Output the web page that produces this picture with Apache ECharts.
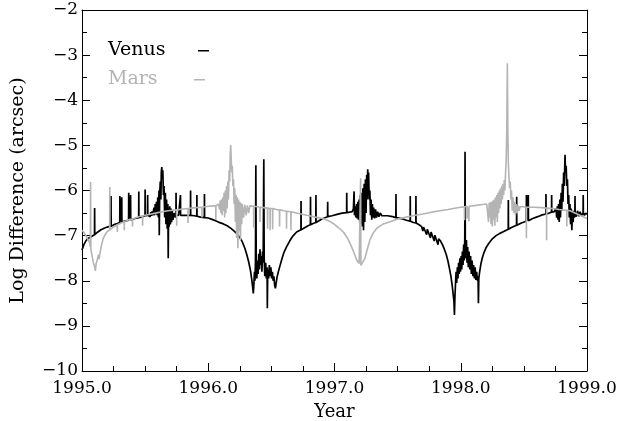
<!DOCTYPE html>
<html>
<head>
<meta charset="utf-8">
<script src="https://cdn.jsdelivr.net/npm/echarts@6/dist/echarts.min.js"></script>
<style>html,body{margin:0;padding:0;background:#fff;}#c{width:618px;height:421px;}</style>
</head>
<body>
<div id="c"></div>
<script>
// ---- axis ticks ----
const xTicks = [1995, 1996, 1997, 1998, 1999];
const yTicks = [-10, -9, -8, -7, -6, -5, -4, -3, -2];
const seriesNames = ['Venus', 'Mars'];

// ---- Venus (black) [year, log difference] ----
const venus1995 = [
[1995.000,-7.32],[1995.015,-7.20],[1995.030,-7.12],[1995.045,-7.07],[1995.060,-7.04],[1995.075,-7.02],[1995.090,-7.00],
[1995.099,-6.98],[1995.100,-6.39],[1995.101,-6.98],
[1995.120,-6.93],[1995.150,-6.87],[1995.180,-6.83],[1995.200,-6.81],
[1995.229,-6.79],[1995.230,-6.12],[1995.231,-6.79],
[1995.260,-6.75],[1995.280,-6.73],
[1995.299,-6.71],[1995.300,-6.12],[1995.301,-6.71],
[1995.314,-6.70],[1995.315,-6.15],[1995.316,-6.70],
[1995.340,-6.68],
[1995.369,-6.66],[1995.370,-6.05],[1995.371,-6.66],
[1995.384,-6.65],[1995.385,-6.10],[1995.386,-6.65],
[1995.420,-6.62],
[1995.449,-6.60],[1995.450,-6.02],[1995.451,-6.60],
[1995.480,-6.58],
[1995.499,-6.56],[1995.500,-5.98],[1995.501,-6.56],
[1995.519,-6.55],[1995.520,-6.10],[1995.521,-6.55],
[1995.535,-6.52],[1995.540,-6.58],[1995.545,-6.48],[1995.550,-6.56],[1995.555,-6.46],
[1995.560,-6.55],[1995.570,-6.38],[1995.575,-6.55],[1995.580,-6.30],[1995.585,-6.52],[1995.590,-6.25],
[1995.595,-6.55],[1995.600,-6.15],[1995.605,-6.60],[1995.610,-6.00],[1995.612,-6.99],[1995.615,-6.10],
[1995.620,-5.80],[1995.625,-6.20],[1995.628,-5.60],[1995.632,-5.48],[1995.636,-5.75],[1995.640,-5.55],
[1995.645,-6.10],[1995.650,-5.90],[1995.655,-6.60],[1995.660,-6.05],[1995.665,-6.75],[1995.670,-6.20],
[1995.675,-6.85],[1995.680,-6.30],[1995.683,-7.50],[1995.686,-6.40],[1995.690,-6.80],[1995.695,-6.35],
[1995.700,-6.75],[1995.705,-6.40],[1995.710,-6.70],[1995.715,-6.45],[1995.720,-6.65],[1995.730,-6.50],
[1995.740,-6.60],
[1995.744,-6.54],[1995.745,-6.05],[1995.746,-6.54],
[1995.765,-6.55],
[1995.779,-6.55],[1995.780,-6.10],[1995.781,-6.55],
[1995.820,-6.55],
[1995.859,-6.55],[1995.860,-6.00],[1995.861,-6.55],
[1995.890,-6.56],
[1995.909,-6.57],[1995.910,-6.10],[1995.911,-6.57],
[1995.940,-6.59],
[1995.969,-6.60],[1995.970,-6.08],[1995.971,-6.60]
];
const venus1996 = [
[1996.000,-6.61],[1996.040,-6.65],[1996.080,-6.70],[1996.120,-6.74],[1996.150,-6.78],[1996.180,-6.84],
[1996.210,-6.91],[1996.230,-6.97],[1996.250,-7.04],[1996.270,-7.14],[1996.290,-7.28],[1996.305,-7.42],
[1996.320,-7.58],[1996.335,-7.78],[1996.345,-7.98],[1996.352,-8.15],[1996.357,-8.28],
[1996.362,-8.05],[1996.366,-7.80],[1996.370,-8.00],[1996.374,-7.60],[1996.377,-5.44],[1996.380,-7.70],
[1996.385,-7.95],[1996.390,-7.55],[1996.395,-7.85],[1996.400,-7.40],[1996.405,-7.75],[1996.410,-7.30],
[1996.415,-7.65],[1996.420,-7.45],[1996.425,-7.80],[1996.430,-7.35],[1996.435,-7.60],[1996.440,-5.31],
[1996.443,-7.50],[1996.448,-7.90],[1996.455,-7.60],[1996.460,-7.95],[1996.466,-7.70],[1996.468,-8.61],
[1996.471,-7.75],[1996.478,-7.95],[1996.484,-7.65],[1996.490,-7.90],[1996.496,-7.70],[1996.502,-7.95],
[1996.508,-7.80],[1996.514,-8.00],[1996.520,-7.90],[1996.526,-8.10],[1996.532,-8.17],[1996.538,-8.05],
[1996.545,-7.92],[1996.555,-7.80],[1996.568,-7.67],[1996.585,-7.50],[1996.600,-7.37],[1996.620,-7.25],
[1996.645,-7.12],[1996.670,-7.01],[1996.700,-6.92],
[1996.734,-6.87],[1996.735,-6.23],[1996.736,-6.87],
[1996.760,-6.83],[1996.790,-6.78],
[1996.809,-6.76],[1996.810,-6.14],[1996.811,-6.76],
[1996.830,-6.73],
[1996.852,-6.71],[1996.853,-6.10],[1996.854,-6.71],
[1996.900,-6.63],
[1996.945,-6.58],[1996.946,-6.25],[1996.947,-6.58],
[1996.980,-6.56]
];
const venus1997 = [
[1997.020,-6.53],[1997.060,-6.50],
[1997.096,-6.49],[1997.097,-6.05],[1997.098,-6.49],
[1997.120,-6.48],[1997.140,-6.47],[1997.150,-6.40],[1997.155,-6.02],[1997.158,-6.55],[1997.165,-6.35],
[1997.170,-6.60],[1997.175,-6.30],[1997.180,-6.62],[1997.185,-6.25],[1997.190,-6.65],[1997.195,-6.20],
[1997.200,-6.70],[1997.205,-6.10],[1997.210,-6.75],[1997.215,-6.05],[1997.220,-6.80],[1997.225,-5.95],
[1997.230,-6.88],[1997.235,-5.85],[1997.240,-6.70],[1997.245,-5.75],[1997.250,-6.50],[1997.255,-5.65],
[1997.260,-6.20],[1997.263,-5.53],[1997.267,-5.90],[1997.270,-5.60],[1997.275,-6.20],[1997.280,-6.00],
[1997.285,-6.55],[1997.290,-6.20],[1997.295,-6.65],[1997.300,-6.30],[1997.305,-6.60],[1997.310,-6.38],
[1997.318,-6.62],[1997.325,-6.42],[1997.333,-6.60],[1997.342,-6.47],[1997.352,-6.58],[1997.362,-6.50],
[1997.375,-6.56],[1997.390,-6.55],[1997.420,-6.56],[1997.460,-6.58],
[1997.486,-6.60],[1997.487,-6.08],[1997.488,-6.60],
[1997.540,-6.63],[1997.570,-6.66],
[1997.599,-6.68],[1997.600,-6.12],[1997.601,-6.68],
[1997.625,-6.71],
[1997.644,-6.72],[1997.645,-6.12],[1997.646,-6.72],
[1997.670,-6.76],[1997.690,-6.80],[1997.700,-6.90],[1997.705,-6.81],[1997.720,-6.84],[1997.730,-6.98],
[1997.735,-6.86],[1997.750,-6.90],[1997.760,-7.05],[1997.765,-6.92],[1997.780,-6.96],[1997.790,-7.12],
[1997.795,-6.99],[1997.810,-7.03],[1997.820,-7.20],[1997.825,-7.07],[1997.840,-7.12],[1997.855,-7.20],
[1997.870,-7.30],[1997.885,-7.42],[1997.900,-7.58],[1997.912,-7.75],[1997.922,-7.90],[1997.932,-8.10],
[1997.940,-8.30],[1997.946,-8.45],[1997.950,-8.76],[1997.954,-8.35],
[1997.958,-8.10],[1997.963,-7.80],[1997.968,-8.05],[1997.973,-7.70],[1997.978,-7.95],[1997.983,-7.60],
[1997.988,-7.85],[1997.993,-7.50],[1997.998,-7.80]
];
const venus1998 = [
[1998.003,-7.45],[1998.008,-7.75],[1998.013,-7.35],[1998.018,-7.65],[1998.023,-7.20],[1998.028,-7.55],
[1998.032,-7.05],[1998.034,-5.14],[1998.036,-7.10],[1998.040,-7.50],[1998.045,-7.10],[1998.050,-7.60],
[1998.055,-7.25],[1998.060,-7.70],[1998.066,-7.35],[1998.072,-7.75],[1998.078,-7.45],[1998.084,-7.85],
[1998.090,-7.55],[1998.096,-7.90],[1998.102,-7.65],[1998.108,-7.95],[1998.114,-7.70],[1998.120,-7.98],
[1998.126,-7.80],[1998.132,-8.00],[1998.137,-7.90],[1998.140,-8.50],[1998.143,-7.95],[1998.150,-7.80],
[1998.160,-7.62],[1998.172,-7.48],[1998.185,-7.37],[1998.200,-7.27],[1998.220,-7.18],[1998.250,-7.07],
[1998.280,-7.00],[1998.310,-6.95],[1998.340,-6.91],[1998.360,-6.88],
[1998.376,-6.86],[1998.377,-6.21],[1998.378,-6.86],
[1998.410,-6.81],
[1998.442,-6.77],[1998.443,-6.14],[1998.444,-6.77],
[1998.480,-6.72],
[1998.519,-6.68],[1998.520,-6.10],[1998.521,-6.68],
[1998.534,-6.67],[1998.535,-6.10],[1998.536,-6.67],
[1998.570,-6.62],[1998.610,-6.58],[1998.645,-6.54],
[1998.674,-6.52],[1998.675,-6.08],[1998.676,-6.52],
[1998.700,-6.50],
[1998.719,-6.48],[1998.720,-6.10],[1998.721,-6.48],
[1998.740,-6.47],[1998.755,-6.40],[1998.760,-6.60],[1998.765,-6.35],[1998.770,-6.65],[1998.775,-6.30],
[1998.780,-6.70],[1998.785,-6.20],[1998.790,-6.60],[1998.795,-6.05],[1998.800,-6.45],[1998.805,-5.85],
[1998.810,-6.25],[1998.815,-5.60],[1998.820,-5.90],[1998.826,-5.21],[1998.830,-5.60],[1998.835,-5.45],
[1998.840,-5.90],[1998.845,-5.75],[1998.850,-6.30],[1998.855,-6.10],[1998.860,-6.60],[1998.865,-6.30],
[1998.870,-6.75],[1998.875,-6.40],[1998.880,-6.88],[1998.885,-6.45],[1998.890,-6.70],[1998.895,-6.45],
[1998.900,-6.60],
[1998.904,-6.50],[1998.905,-6.12],[1998.906,-6.50],
[1998.915,-6.58],[1998.925,-6.45],[1998.935,-6.57],[1998.945,-6.47],[1998.955,-6.56],
[1998.969,-6.50],[1998.970,-6.10],[1998.971,-6.50],
[1998.980,-6.55],[1998.990,-6.50],[1999.000,-6.53]
];

// ---- Mars (grey) [year, log difference] ----
const mars1995 = [
[1995.000,-6.88],[1995.020,-6.95],[1995.040,-7.05],[1995.060,-7.15],[1995.066,-7.25],[1995.068,-5.81],
[1995.070,-7.30],[1995.080,-7.45],[1995.090,-7.60],[1995.100,-7.69],[1995.106,-7.78],[1995.112,-7.62],
[1995.120,-7.55],[1995.130,-7.42],[1995.135,-7.52],[1995.143,-7.38],[1995.155,-7.20],[1995.170,-7.05],
[1995.185,-6.97],[1995.200,-6.91],
[1995.219,-6.87],[1995.220,-5.92],[1995.221,-6.87],
[1995.240,-6.83],[1995.260,-6.79],
[1995.279,-6.76],[1995.280,-6.92],[1995.281,-6.76],
[1995.310,-6.72],
[1995.334,-6.69],[1995.335,-6.88],[1995.336,-6.69],
[1995.370,-6.65],
[1995.399,-6.63],[1995.400,-6.80],[1995.401,-6.63],
[1995.450,-6.58],
[1995.479,-6.56],[1995.480,-6.78],[1995.481,-6.56],
[1995.530,-6.53],[1995.600,-6.49],[1995.680,-6.45],
[1995.749,-6.43],[1995.750,-6.78],[1995.751,-6.43],
[1995.800,-6.41],
[1995.839,-6.40],[1995.840,-6.72],[1995.841,-6.40],
[1995.900,-6.38],
[1995.949,-6.37],[1995.950,-6.60],[1995.951,-6.37]
];
const mars1996 = [
[1996.000,-6.35],[1996.040,-6.34],
[1996.059,-6.34],[1996.060,-6.65],[1996.061,-6.34],
[1996.080,-6.30],[1996.090,-6.42],[1996.095,-6.22],[1996.100,-6.50],[1996.105,-6.20],[1996.110,-6.55],
[1996.115,-6.15],[1996.120,-6.45],[1996.125,-6.05],[1996.130,-6.60],[1996.135,-6.00],[1996.140,-6.50],
[1996.145,-5.90],[1996.150,-6.40],[1996.155,-5.80],[1996.160,-6.20],[1996.165,-5.55],[1996.170,-5.80],
[1996.174,-5.20],[1996.178,-4.99],[1996.182,-5.30],[1996.186,-5.60],[1996.190,-5.45],[1996.195,-5.90],
[1996.200,-5.75],[1996.205,-6.30],[1996.210,-5.95],[1996.215,-6.70],[1996.220,-6.10],[1996.225,-7.05],
[1996.230,-6.15],[1996.235,-7.28],[1996.240,-6.20],[1996.245,-6.90],[1996.250,-6.25],[1996.255,-7.10],
[1996.260,-6.28],[1996.265,-6.75],[1996.270,-6.30],[1996.280,-6.60],[1996.290,-6.32],[1996.300,-6.55],
[1996.310,-6.33],[1996.320,-6.50],[1996.330,-6.34],[1996.345,-6.35],
[1996.359,-6.35],[1996.360,-6.82],[1996.361,-6.35],
[1996.390,-6.36],
[1996.409,-6.37],[1996.410,-6.70],[1996.411,-6.37],
[1996.440,-6.38],
[1996.469,-6.39],[1996.470,-6.85],[1996.471,-6.39],
[1996.489,-6.40],[1996.490,-6.88],[1996.491,-6.40],
[1996.509,-6.40],[1996.510,-6.86],[1996.511,-6.40],
[1996.540,-6.42],
[1996.564,-6.43],[1996.565,-6.80],[1996.566,-6.43],
[1996.600,-6.45],
[1996.619,-6.46],[1996.620,-6.85],[1996.621,-6.46],
[1996.654,-6.47],[1996.655,-6.88],[1996.656,-6.47],
[1996.700,-6.50],[1996.780,-6.55],[1996.850,-6.59],[1996.910,-6.62],[1996.960,-6.68],[1996.990,-6.73]
];
const mars1997 = [
[1997.030,-6.82],[1997.070,-6.92],[1997.100,-7.04],[1997.123,-7.17],[1997.150,-7.35],[1997.176,-7.54],
[1997.195,-7.62],[1997.205,-7.65],[1997.207,-5.73],[1997.209,-7.66],[1997.220,-7.64],[1997.240,-7.51],
[1997.260,-7.30],[1997.280,-7.10],[1997.305,-6.95],[1997.334,-6.84],[1997.380,-6.75],[1997.440,-6.69],
[1997.500,-6.63],[1997.570,-6.59],[1997.640,-6.55],[1997.700,-6.52],[1997.770,-6.48],[1997.835,-6.45],
[1997.900,-6.42],[1997.940,-6.40]
];
const mars1998 = [
[1998.000,-6.37],
[1998.029,-6.36],[1998.030,-6.66],[1998.031,-6.36],
[1998.049,-6.35],[1998.050,-6.62],[1998.051,-6.35],
[1998.064,-6.35],[1998.065,-6.68],[1998.066,-6.35],
[1998.120,-6.33],[1998.170,-6.31],[1998.206,-6.30],
[1998.215,-6.28],[1998.220,-6.70],[1998.225,-6.27],[1998.230,-6.60],[1998.235,-6.26],[1998.240,-6.75],
[1998.245,-6.25],[1998.250,-6.80],[1998.255,-6.22],[1998.260,-6.65],[1998.265,-6.20],[1998.270,-6.78],
[1998.275,-6.15],[1998.280,-6.60],[1998.285,-6.10],[1998.290,-6.70],[1998.295,-6.05],[1998.300,-6.50],
[1998.305,-6.00],[1998.310,-6.40],[1998.315,-5.95],[1998.320,-6.30],[1998.325,-5.90],[1998.330,-6.20],
[1998.335,-5.85],[1998.340,-6.10],[1998.345,-5.77],[1998.350,-6.00],[1998.355,-5.60],[1998.360,-5.30],
[1998.365,-4.60],[1998.369,-3.18],[1998.373,-4.70],[1998.377,-5.40],[1998.382,-5.70],[1998.387,-5.95],
[1998.392,-5.80],[1998.397,-6.20],[1998.402,-6.00],[1998.408,-6.45],[1998.414,-6.15],[1998.420,-6.50],
[1998.426,-6.25],[1998.433,-6.55],[1998.440,-6.30],[1998.447,-6.50],[1998.455,-6.33],[1998.463,-6.45],
[1998.470,-6.36],[1998.500,-6.36],
[1998.519,-6.37],[1998.520,-7.06],[1998.521,-6.37],
[1998.580,-6.37],[1998.640,-6.38],
[1998.679,-6.39],[1998.680,-7.10],[1998.681,-6.39],
[1998.730,-6.40],[1998.780,-6.42],
[1998.839,-6.44],[1998.840,-6.80],[1998.841,-6.44],
[1998.865,-6.45],[1998.930,-6.53],[1999.000,-6.62]
];

const venusData = [].concat(venus1995, venus1996, venus1997, venus1998);
const marsData = [].concat(mars1995, mars1996, mars1997, mars1998);

const FONT = 'DejaVu Serif';
const BLACK = '#000000';
const GREY = '#b4b4b4';
const chart = echarts.init(document.getElementById('c'), null, {renderer: 'canvas'});
const tickCommon = {show: true, inside: true, length: 8, lineStyle: {color: '#000', width: 1}};
const minorCommon = {show: true, splitNumber: 2, length: 5, lineStyle: {color: '#000', width: 1}};
chart.setOption({
  animation: false,
  backgroundColor: '#fff',
  grid: {left: 82, right: 31, top: 10, bottom: 50, containLabel: false, outerBoundsMode: 'none'},
  legend: {show: false, data: seriesNames},
  graphic: [
    {type: 'text', left: 108, top: 41, style: {text: seriesNames[0], fill: BLACK, font: '19px "DejaVu Serif"'}},
    {type: 'rect', left: 198, top: 50, shape: {width: 11, height: 1.5}, style: {fill: BLACK}},
    {type: 'text', left: 108, top: 70, style: {text: seriesNames[1], fill: GREY, font: '19px "DejaVu Serif"'}},
    {type: 'rect', left: 194, top: 79, shape: {width: 11, height: 1.5}, style: {fill: GREY}}
  ],
  xAxis: [{
    type: 'value', min: xTicks[0], max: xTicks[xTicks.length - 1], interval: 1,
    name: 'Year', nameLocation: 'middle', nameGap: 32,
    nameTextStyle: {fontFamily: FONT, fontSize: 18, color: '#000'},
    axisLine: {show: true, onZero: false, lineStyle: {color: '#000', width: 1}},
    axisTick: tickCommon,
    minorTick: Object.assign({}, minorCommon, {splitNumber: 4}),
    axisLabel: {fontFamily: FONT, fontSize: 17, color: '#000', margin: 9,
      formatter: v => v.toFixed(1)},
    splitLine: {show: false}
  }, {
    type: 'value', position: 'top', min: xTicks[0], max: xTicks[xTicks.length - 1], interval: 1,
    axisLine: {show: true, onZero: false, lineStyle: {color: '#000', width: 1}},
    axisTick: {show: false}, axisLabel: {show: false}, splitLine: {show: false}
  }],
  yAxis: [{
    type: 'value', min: yTicks[0], max: yTicks[yTicks.length - 1], interval: 1,
    name: 'Log Difference (arcsec)', nameLocation: 'middle', nameGap: 54, nameRotate: 90,
    nameTextStyle: {fontFamily: FONT, fontSize: 19, color: '#000'},
    axisLine: {show: true, onZero: false, lineStyle: {color: '#000', width: 1}},
    axisTick: tickCommon,
    minorTick: minorCommon,
    axisLabel: {fontFamily: FONT, fontSize: 17, color: '#000', margin: 4,
      formatter: v => (v < 0 ? '\u2212' : '') + Math.abs(v)},
    splitLine: {show: false}
  }, {
    type: 'value', position: 'right', min: yTicks[0], max: yTicks[yTicks.length - 1], interval: 1,
    axisLine: {show: true, onZero: false, lineStyle: {color: '#000', width: 1}},
    axisTick: tickCommon, minorTick: minorCommon,
    axisLabel: {show: false}, splitLine: {show: false}
  }],
  series: [{
    name: seriesNames[0], type: 'line', data: venusData, showSymbol: false, symbol: 'none',
    xAxisIndex: 0, yAxisIndex: 0,
    color: BLACK, lineStyle: {color: BLACK, width: 1.7}, z: 2
  }, {
    name: seriesNames[1], type: 'line', data: marsData, showSymbol: false, symbol: 'none',
    xAxisIndex: 0, yAxisIndex: 0,
    color: GREY, lineStyle: {color: GREY, width: 1.6}, z: 3
  }]
});
</script>
</body>
</html>
